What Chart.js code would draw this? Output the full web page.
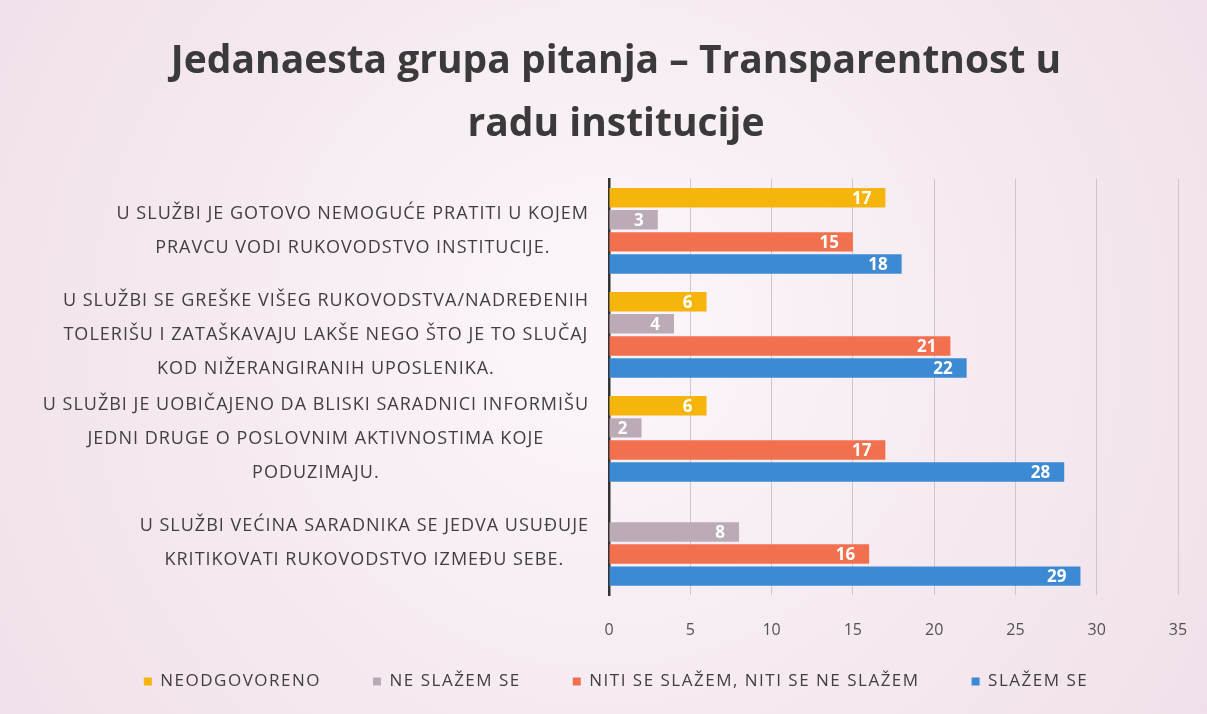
<!DOCTYPE html>
<html>
<head>
<meta charset="utf-8">
<script src="https://cdn.jsdelivr.net/npm/chart.js@4.4.1/dist/chart.umd.min.js"></script>
<style>
  html, body { margin: 0; padding: 0; background: #f4e9f0; }
  #wrap { width: 1207px; height: 714px; position: relative; }
</style>
</head>
<body>
<div id="wrap"><canvas id="chart" width="1207" height="714"></canvas></div>
<script>
// ---- data ----
const categories = [
  ['U SLUŽBI JE GOTOVO NEMOGUĆE PRATITI U KOJEM', 'PRAVCU VODI RUKOVODSTVO INSTITUCIJE.'],
  ['U SLUŽBI SE GREŠKE VIŠEG RUKOVODSTVA/NADREĐENIH', 'TOLERIŠU I ZATAŠKAVAJU LAKŠE NEGO ŠTO JE TO SLUČAJ', 'KOD NIŽERANGIRANIH UPOSLENIKA.'],
  ['U SLUŽBI JE UOBIČAJENO DA BLISKI SARADNICI INFORMIŠU', 'JEDNI DRUGE O POSLOVNIM AKTIVNOSTIMA KOJE', 'PODUZIMAJU.'],
  ['U SLUŽBI VEĆINA SARADNIKA SE JEDVA USUĐUJE', 'KRITIKOVATI RUKOVODSTVO IZMEĐU SEBE.']
];
const seriesNames = ['NEODGOVORENO', 'NE SLAŽEM SE', 'NITI SE SLAŽEM, NITI SE NE SLAŽEM', 'SLAŽEM SE'];
const neodgovoreno = [17, 6, 6, null];
const neSlazem = [3, 4, 2, 8];
const niti = [15, 21, 17, 16];
const slazem = [18, 22, 28, 29];
const xMax = 35;
const xStep = 5;

const colors = ['#f5b50c', '#bcaab6', '#f2704e', '#3c8ad3'];
const FONT = "'Open Sans', sans-serif";
const LEGEND_SPACING = '1.5px';

Chart.defaults.font.family = FONT;

// legend text in the photo is stretched: letter spacing for its measuring and drawing,
// and pull it up closer to the axis labels
const legendPlugin = {
  id: 'legendTweak',
  beforeLayout(chart) { chart.ctx.letterSpacing = LEGEND_SPACING; },
  afterLayout(chart) {
    chart.ctx.letterSpacing = '0px';
    const lg = chart.legend;
    if (!lg) return;
    lg.top -= 14;
    lg.bottom -= 14;
    if (!lg._wrapped) {
      const orig = lg.draw;
      lg.draw = function (area) {
        const ctx = this.ctx;
        ctx.save();
        ctx.letterSpacing = LEGEND_SPACING;
        orig.call(this, area);
        ctx.restore();
      };
      lg._wrapped = true;
    }
  }
};

// background of the slide
const bgPlugin = {
  id: 'bg',
  beforeDraw(chart) {
    const { ctx, width, height } = chart;
    ctx.save();
    const g = ctx.createRadialGradient(width * 0.5, height * 0.45, 50, width * 0.5, height * 0.5, width * 0.7);
    g.addColorStop(0, '#fbf5f9');
    g.addColorStop(1, '#eedbe7');
    ctx.fillStyle = g;
    ctx.fillRect(0, 0, width, height);
    ctx.restore();
  }
};

// category labels: each block right aligned, lines centred inside it
const yLabelPlugin = {
  id: 'yLabels',
  afterDraw(chart) {
    const { ctx } = chart;
    const scale = chart.scales.y;
    const right = scale.right - 20;
    const lh = 34;
    ctx.save();
    ctx.letterSpacing = '1px';
    ctx.font = '18px ' + FONT;
    ctx.fillStyle = '#404040';
    ctx.textAlign = 'center';
    ctx.textBaseline = 'middle';
    categories.forEach((lines, i) => {
      const y = scale.getPixelForValue(i);
      const w = Math.max(...lines.map(l => ctx.measureText(l).width));
      const cx = right - w / 2;
      lines.forEach((l, j) => {
        ctx.fillText(l, cx, y + (j - (lines.length - 1) / 2) * lh);
      });
    });
    ctx.restore();
  }
};

// white values inside bar ends
const valuePlugin = {
  id: 'values',
  afterDatasetsDraw(chart) {
    const { ctx } = chart;
    ctx.save();
    ctx.font = 'bold 17px ' + FONT;
    ctx.fillStyle = '#ffffff';
    ctx.textAlign = 'right';
    ctx.textBaseline = 'middle';
    chart.data.datasets.forEach((ds, i) => {
      chart.getDatasetMeta(i).data.forEach((bar, j) => {
        const v = ds.data[j];
        if (v == null || v === 0) return;
        ctx.fillText(String(v), bar.x - 14, bar.y + 1);
      });
    });
    ctx.restore();
  }
};

new Chart(document.getElementById('chart'), {
  type: 'bar',
  data: {
    labels: categories,
    datasets: [neodgovoreno, neSlazem, niti, slazem].map((d, i) => ({
      label: seriesNames[i],
      data: d,
      backgroundColor: colors[i],
      borderWidth: 0,
      categoryPercentage: 0.85,
      barPercentage: 0.88
    }))
  },
  options: {
    indexAxis: 'y',
    responsive: false,
    animation: false,
    layout: { padding: { left: 54, right: 29, top: 0, bottom: 0 } },
    scales: {
      x: {
        min: 0,
        max: xMax,
        ticks: { stepSize: xStep, color: '#525252', font: { size: 16 }, padding: 26 },
        grid: { color: '#cfc4cb', lineWidth: 1, drawTicks: false },
        border: { display: false },
        afterFit(scale) {
          scale.height = 40;
          scale.paddingRight = 10;
        }
      },
      y: {
        ticks: { display: false },
        grid: { display: false },
        border: { display: true, color: '#333333', width: 2.5 },
        afterFit(scale) { scale.width = 555; }
      }
    },
    plugins: {
      title: {
        display: true,
        text: ['Jedanaesta grupa pitanja – Transparentnost u', 'radu institucije'],
        color: '#3a3a3a',
        font: { size: 39, weight: 'bold', lineHeight: 1.6 },
        padding: { top: 31, bottom: 23 }
      },
      legend: {
        position: 'bottom',
        labels: {
          boxWidth: 8,
          boxHeight: 8,
          color: '#404040',
          font: { size: 17 },
          padding: 52
        }
      },
      tooltip: { enabled: false }
    }
  },
  plugins: [legendPlugin, bgPlugin, yLabelPlugin, valuePlugin]
});
</script>
</body>
</html>
